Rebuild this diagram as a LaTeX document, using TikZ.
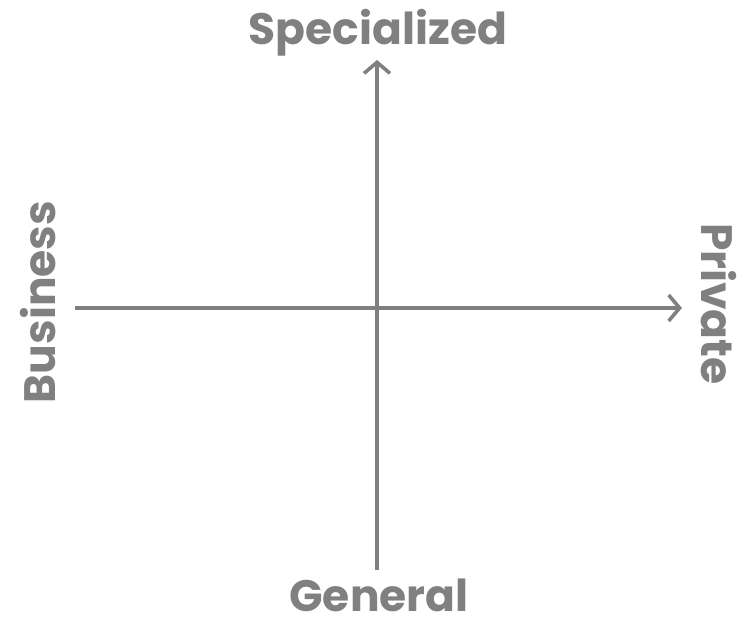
\documentclass[tikz,border=0pt]{standalone}
\usepackage{fontspec}
\setmainfont{Poppins}[BoldFont={* Bold}]
\usetikzlibrary{arrows.meta}
\definecolor{axiscol}{RGB}{128,128,128}
\tikzset{
  axis/.style={draw=axiscol,line width=3.6pt,-{Straight Barb[length=11pt,width=26pt,line width=3.6pt]}},
  lab/.style={font=\fontsize{44}{44}\selectfont\bfseries,text=axiscol,inner sep=0pt},
}
\begin{document}
\begin{tikzpicture}[x=1pt,y=-1pt]
  \useasboundingbox (0,0) rectangle (748,623);
  \coordinate (vlow) at (377,570);
  \coordinate (vtop) at (377,60);
  \coordinate (hleft) at (75,308);
  \coordinate (hright) at (682,308);
  \draw[axis] (vlow) -- (vtop);
  \draw[axis] (hleft) -- (hright);
  \node[lab,anchor=base] (spec) at (378,45) {Specialized};
  \node[lab,anchor=base] (gen) at (379,611) {General};
  \node[lab,anchor=base,rotate=90] (bus) at (56,302) {Business};
  \node[lab,anchor=base,rotate=-90] (priv) at (701,304) {Private};
\end{tikzpicture}
\end{document}
